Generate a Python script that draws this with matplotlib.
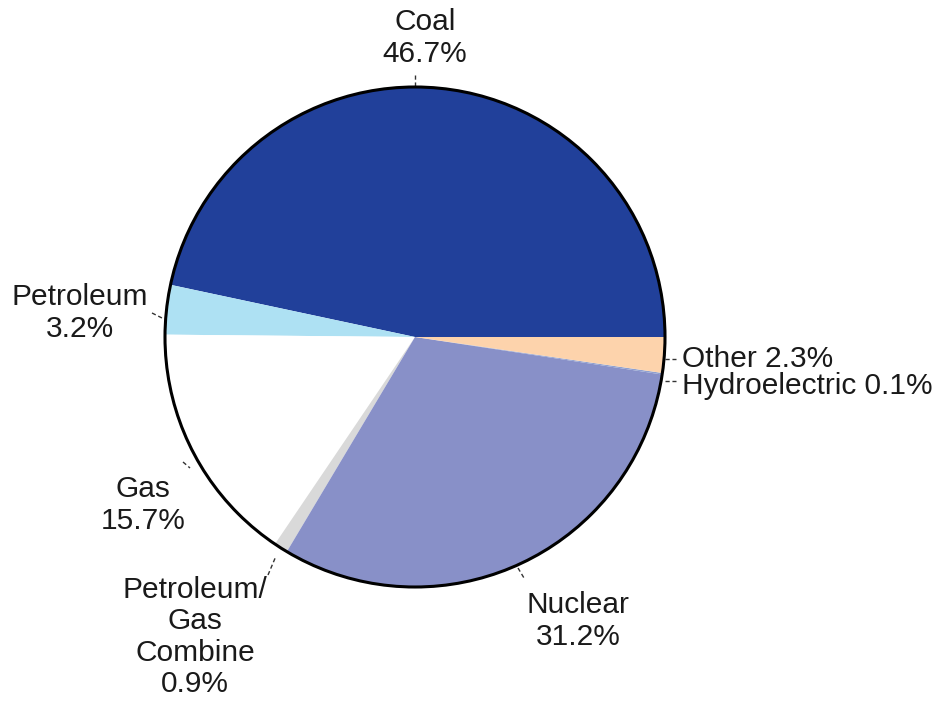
import matplotlib
matplotlib.use("Agg")
import matplotlib.pyplot as plt
from matplotlib.patches import Circle

labels = ["Coal", "Petroleum", "Gas", "Petroleum/\nGas\nCombine", "Nuclear", "Hydroelectric", "Other"]
values = [46.7, 3.2, 15.7, 0.9, 31.2, 0.1, 2.3]
colors = ["#21409A", "#AEE1F3", "#FFFFFF", "#D9D9D9", "#8890C8", "#8FA0D0", "#FDD3AC"]

W, H = 951, 711
fig = plt.figure(figsize=(W / 100, H / 100), dpi=100)
ax = fig.add_axes([0, 0, 1, 1])

cx, cy, r = 415, H - 337, 250
ax.pie(values, colors=colors, startangle=0, counterclock=True,
       center=(cx, cy), radius=r, wedgeprops=dict(linewidth=0), frame=True)
ax.set_xlim(0, W)
ax.set_ylim(0, H)
ax.axis("off")
ax.add_patch(Circle((cx, cy), r, fill=False, edgecolor="black", linewidth=2.2, zorder=5))

fp = dict(family="Liberation Sans", fontsize=21.5, color="#1a1a1a", linespacing=1.15)

def yy(y):
    return H - y

ax.text(425, yy(38), "Coal\n46.7%", ha="center", va="center", **fp)
ax.text(80, yy(313), "Petroleum\n3.2%", ha="center", va="center", **fp)
ax.text(143, yy(505), "Gas\n15.7%", ha="center", va="center", **fp)
ax.text(195, yy(637), "Petroleum/\nGas\nCombine\n0.9%", ha="center", va="center", **fp)
ax.text(578, yy(621), "Nuclear\n31.2%", ha="center", va="center", **fp)
ax.text(682, yy(359), "Other 2.3%", ha="left", va="center", **fp)
ax.text(682, yy(386), "Hydroelectric 0.1%", ha="left", va="center", **fp)

ticks = [((415, 75), (415, 86)), ((152, 313), (162, 318)), ((183, 462), (190, 468)),
         ((268, 575), (276, 556)), ((518, 568), (524, 578)), ((665, 359), (676, 359)),
         ((665, 381), (676, 381))]
for (x0, y0), (x1, y1) in ticks:
    ax.plot([x0, x1], [yy(y0), yy(y1)], color="#333333", linewidth=1.0, linestyle=(0, (3, 2)))

fig.savefig("out.png", dpi=100)
